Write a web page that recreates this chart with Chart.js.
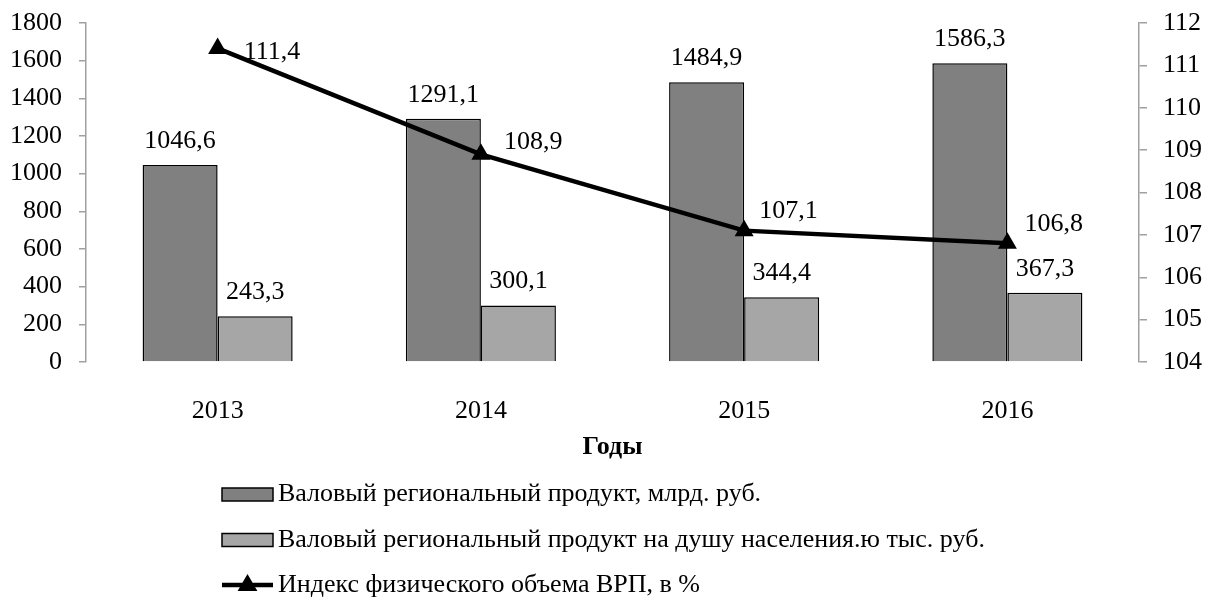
<!DOCTYPE html>
<html>
<head>
<meta charset="utf-8">
<script src="https://cdn.jsdelivr.net/npm/chart.js@4"></script>
<style>
  html, body { margin: 0; padding: 0; background: #fff; }
  #wrap { width: 1206px; height: 599px; position: relative; }
</style>
</head>
<body>
<div id="wrap"><canvas id="c" width="1206" height="599"></canvas></div>
<script>
// ---- data ----
const categories = ['2013', '2014', '2015', '2016'];
const grpValues = [1046.6, 1291.1, 1484.9, 1586.3];
const grpPerCapita = [243.3, 300.1, 344.4, 367.3];
const volumeIndex = [111.4, 108.9, 107.1, 106.8];
const seriesNames = [
  'Валовый региональный продукт, млрд. руб.',
  'Валовый региональный продукт на душу населения.ю тыс. руб.',
  'Индекс физического объема ВРП, в %'
];
const axisTitle = 'Годы';
const leftTicks = { min: 0, max: 1800, step: 200 };
const rightTicks = { min: 104, max: 112, step: 1 };

// ---- styles ----
const FONT = '"Liberation Serif", "Times New Roman", serif';
const FS = 26;
const AXIS_GRAY = '#a0a0a0';
const lineLabelOffsets = [[26, 4], [23, -12], [15, -19], [17, -19]];

const fmt = v => v.toFixed(1).replace('.', ',');

const labelPlugin = {
  id: 'valueLabels',
  afterDatasetsDraw(chart) {
    const ctx = chart.ctx;
    ctx.save();
    ctx.font = FS + 'px ' + FONT;
    ctx.fillStyle = '#000';
    ctx.textBaseline = 'middle';
    chart.data.datasets.forEach((ds, di) => {
      const meta = chart.getDatasetMeta(di);
      meta.data.forEach((el, i) => {
        const v = ds.data[i];
        if (ds.type === 'line') {
          const off = lineLabelOffsets[i];
          ctx.textAlign = 'left';
          ctx.fillText(fmt(v), el.x + off[0], el.y + off[1]);
        } else {
          ctx.textAlign = 'center';
          ctx.fillText(fmt(v), el.x, el.y - 24);
        }
      });
    });
    ctx.restore();
  }
};

const legendPlugin = {
  id: 'customLegend',
  afterDraw(chart) {
    const ctx = chart.ctx;
    const rows = [494.5, 540, 585];
    const x0 = 222, x1 = 273, tx = 278;
    ctx.save();
    chart.data.datasets.forEach((ds, i) => {
      const y = rows[i];
      if (ds.type === 'line') {
        ctx.strokeStyle = ds.borderColor;
        ctx.lineWidth = ds.borderWidth;
        ctx.beginPath();
        ctx.moveTo(x0, y);
        ctx.lineTo(x1, y);
        ctx.stroke();
        const r = 11;
        const cx = (x0 + x1) / 2;
        ctx.fillStyle = ds.pointBackgroundColor;
        ctx.beginPath();
        ctx.moveTo(cx, y - r);
        ctx.lineTo(cx + r * 0.9, y + r * 0.55);
        ctx.lineTo(cx - r * 0.9, y + r * 0.55);
        ctx.closePath();
        ctx.fill();
      } else {
        ctx.fillStyle = ds.backgroundColor;
        ctx.fillRect(x0, y - 6.5, x1 - x0, 13);
        ctx.strokeStyle = '#000';
        ctx.lineWidth = 1.5;
        ctx.strokeRect(x0, y - 6.5, x1 - x0, 13);
      }
      ctx.fillStyle = '#000';
      ctx.font = FS + 'px ' + FONT;
      ctx.textAlign = 'left';
      ctx.textBaseline = 'middle';
      ctx.fillText(ds.label, tx, y);
    });
    ctx.restore();
  }
};

new Chart(document.getElementById('c'), {
  data: {
    labels: categories,
    datasets: [
      {
        type: 'bar', label: seriesNames[0], data: grpValues, yAxisID: 'y',
        backgroundColor: '#808080', borderColor: '#000', borderWidth: 1.5,
        categoryPercentage: 0.57, barPercentage: 1, order: 1
      },
      {
        type: 'bar', label: seriesNames[1], data: grpPerCapita, yAxisID: 'y',
        backgroundColor: '#a6a6a6', borderColor: '#000', borderWidth: 1.5,
        categoryPercentage: 0.57, barPercentage: 1, order: 1
      },
      {
        type: 'line', label: seriesNames[2], data: volumeIndex, yAxisID: 'y2',
        borderColor: '#000', borderWidth: 4.5, pointStyle: 'triangle',
        pointRadius: 11, pointBackgroundColor: '#000', pointBorderColor: '#000',
        pointBorderWidth: 0, tension: 0, order: 0
      }
    ]
  },
  options: {
    responsive: false,
    animation: false,
    devicePixelRatio: 1,
    layout: { padding: { top: 23, bottom: 136, left: 0, right: 0 } },
    plugins: { legend: { display: false }, tooltip: { enabled: false } },
    scales: {
      x: {
        grid: { display: false },
        border: { display: false },
        ticks: { color: '#000', font: { family: FONT, size: FS }, padding: 26 },
        title: { display: true, text: axisTitle, color: '#000',
                 font: { family: FONT, size: FS, weight: 'bold' }, padding: { top: 0, bottom: 0 } },
        afterFit(s) { s.height = 101; s.paddingLeft = 0; s.paddingRight = 0; }
      },
      y: {
        position: 'left',
        min: leftTicks.min, max: leftTicks.max,
        ticks: { stepSize: leftTicks.step, color: '#000', font: { family: FONT, size: FS }, padding: 17,
                 callback: v => String(v) },
        grid: { drawOnChartArea: false, drawTicks: true, tickLength: 7, color: AXIS_GRAY, lineWidth: 1.5 },
        border: { display: true, color: AXIS_GRAY, width: 1.5 },
        afterFit(s) { s.width = 86; s.paddingTop = 0; s.paddingBottom = 0; }
      },
      y2: {
        position: 'right',
        min: rightTicks.min, max: rightTicks.max,
        ticks: { stepSize: rightTicks.step, color: '#000', font: { family: FONT, size: FS }, padding: 16,
                 callback: v => String(v) },
        grid: { drawOnChartArea: false, drawTicks: true, tickLength: 8, color: AXIS_GRAY, lineWidth: 1.5 },
        border: { display: true, color: AXIS_GRAY, width: 1.5 },
        afterFit(s) { s.width = 67; s.paddingTop = 0; s.paddingBottom = 0; }
      }
    }
  },
  plugins: [labelPlugin, legendPlugin]
});
</script>
</body>
</html>
